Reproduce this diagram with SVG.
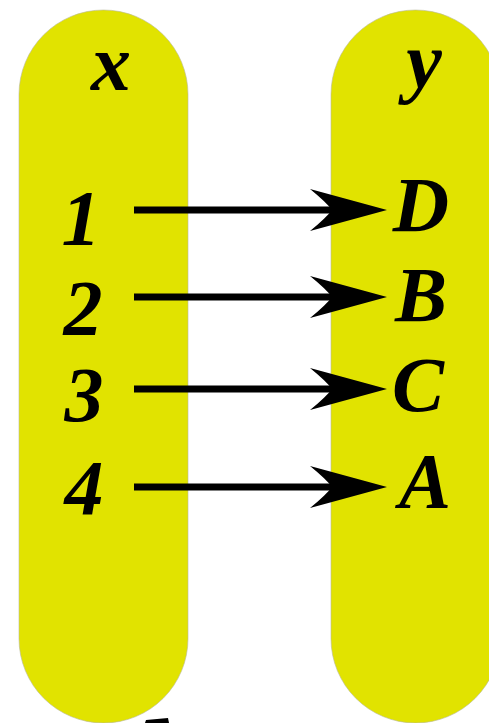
<svg xmlns="http://www.w3.org/2000/svg" width="489" height="723" viewBox="0 0 489 723">
  <style>
    .pill { fill: #e1e300; stroke: #b9b9a0; stroke-width: 0.6; }
    .lbl { font-family: "Liberation Serif", "DejaVu Serif", serif; font-style: italic; font-weight: bold; fill: #000; text-anchor: middle; }
    .num { font-size: 78px; }
    .head { font-size: 80px; }
    .conn { stroke: #000; stroke-width: 7; fill: none; marker-end: url(#arrow); }
  </style>
  <defs>
    <marker id="arrow" viewBox="0 0 77 44" refX="22" refY="22" markerWidth="77" markerHeight="44" markerUnits="userSpaceOnUse" orient="auto">
      <path d="M0,1 L77,22 L0,43 Q16,30 22,22 Q16,14 0,1 Z" fill="#000"/>
    </marker>
  </defs>
  <rect width="489" height="723" fill="#ffffff"/>
  <g id="setX">
    <rect class="pill" x="19" y="10" width="169" height="713" rx="84.5" ry="84.5"/>
    <text class="lbl head" x="111" y="90">x</text>
  </g>
  <g id="setY">
    <rect class="pill" x="331" y="10" width="169" height="713" rx="84.5" ry="84.5"/>
    <text class="lbl head" x="424" y="88">y</text>
  </g>
  <g id="x1"><text class="lbl num" x="81" y="244">1</text></g>
  <g id="x2"><text class="lbl num" x="83" y="334">2</text></g>
  <g id="x3"><text class="lbl num" x="84" y="421">3</text></g>
  <g id="x4"><text class="lbl num" x="84" y="514">4</text></g>
  <g id="yD"><text class="lbl num" x="421" y="231">D</text></g>
  <g id="yB"><text class="lbl num" x="421" y="321">B</text></g>
  <g id="yC"><text class="lbl num" x="418" y="411">C</text></g>
  <g id="yA"><text class="lbl num" x="425" y="507">A</text></g>
  <g id="connectors">
    <line class="conn" x1="134" y1="210" x2="332" y2="210"/>
    <line class="conn" x1="134" y1="297" x2="332" y2="297"/>
    <line class="conn" x1="134" y1="389" x2="332" y2="389"/>
    <line class="conn" x1="134" y1="487" x2="332" y2="487"/>
  </g>
  <path d="M146,720 L168,718 L169,723 L145,723 Z" fill="#000"/>
</svg>
